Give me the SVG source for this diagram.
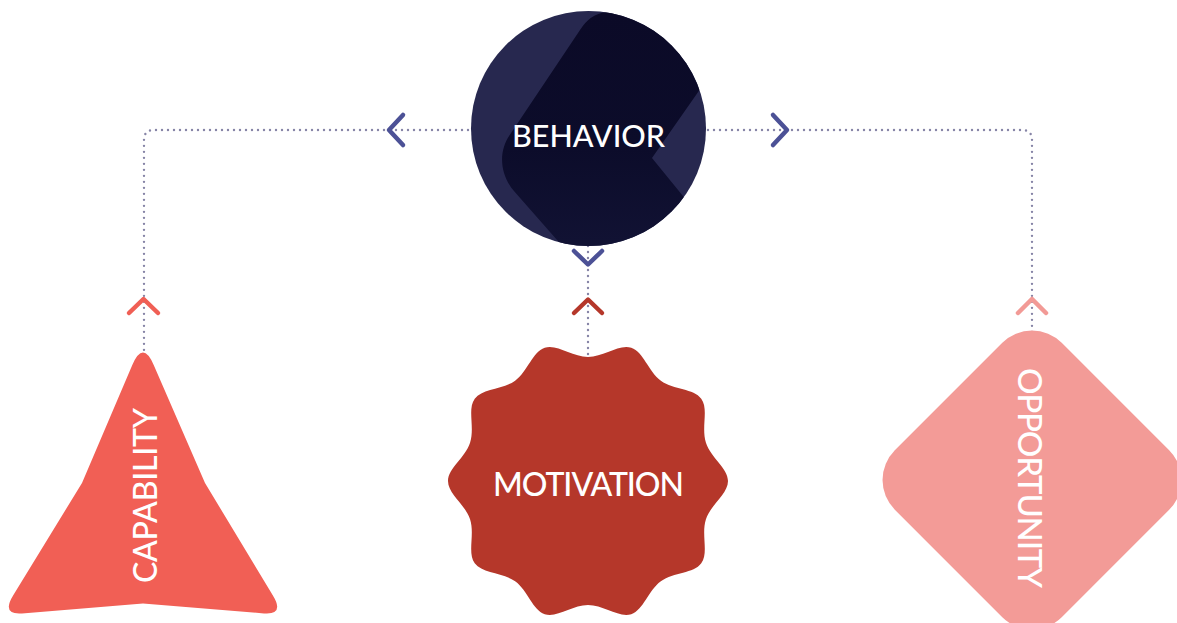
<svg xmlns="http://www.w3.org/2000/svg" width="1177" height="623" viewBox="0 0 1177 623">
  <style>
    .link { fill: none; stroke: #8785a7; stroke-width: 2.4; stroke-linecap: round; stroke-dasharray: 0 6; }
    .chev { fill: none; stroke-width: 4.5; stroke-linecap: round; stroke-linejoin: round; }
    .label { fill: #ffffff; font-family: Lato, "Open Sans", sans-serif; font-weight: 500; text-anchor: middle; }
  </style>
  <defs>
    <clipPath id="circleClip">
      <circle cx="588.5" cy="128.5" r="117.5"/>
    </clipPath>
    <linearGradient id="chevronShade" x1="0" y1="0" x2="0" y2="1">
      <stop offset="0" stop-color="#0b0a27"/>
      <stop offset="0.55" stop-color="#0c0c2a"/>
      <stop offset="1" stop-color="#121335"/>
    </linearGradient>
  </defs>

  <rect width="1177" height="623" fill="#ffffff"/>

  <!-- dotted links -->
  <g id="connectors">
    <path class="link" d="M588,130 L154,130 Q144,130 144,140 L144,352"/>
    <path class="link" d="M588,130 L1022,130 Q1032,130 1032,140 L1032,332"/>
    <path class="link" d="M588,240 L588,358"/>
    <path class="chev" stroke="#4c5196" d="M403,115 L389,130 L403,145"/>
    <path class="chev" stroke="#4c5196" d="M773,115 L787,130 L773,145"/>
    <path class="chev" stroke="#4c5196" d="M574,251 L588,264.5 L602,251"/>
    <path class="chev" stroke="#f05f55" d="M129,313 L143.5,299 L158,313"/>
    <path class="chev" stroke="#b5372a" d="M574,313 L588,299.5 L602,313"/>
    <path class="chev" stroke="#f29a96" d="M1018,313 L1032,299 L1046,313"/>
  </g>

  <!-- central node -->
  <g id="behavior">
    <circle cx="588.5" cy="128.5" r="117.5" fill="#27284f"/>
    <path clip-path="url(#circleClip)" fill="url(#chevronShade)"
          d="M606,12 L754,12 L652,158 L735,260 L574.6,260 L514.8,192 C499.9,175.2 497.9,152.4 509.7,135 L580,30 Q590,14 606,12 Z"/>
    <text class="label" x="588.5" y="147" font-size="30.5" textLength="153" lengthAdjust="spacing">BEHAVIOR</text>
  </g>

  <!-- left node -->
  <g id="capability">
    <path fill="#f15f55"
          d="M132.3,365 Q143,340 153.7,365 L205,483 L272.6,595 Q285,615 264,613.4 L143,603.5 L22,613.4 Q1,615 13.4,595 L82,483 Z"/>
    <text class="label" font-size="32" transform="translate(157,495.5) rotate(-90)" textLength="175" lengthAdjust="spacing">CAPABILITY</text>
  </g>

  <!-- middle node: ten-lobed seal -->
  <g id="motivation">
    <path fill="#b5372a"
          d="M588,357 C604,357 618.90,343.83 631.26,347.85 S647.95,371.28 660.89,380.68 S693.62,388.19 701.26,398.71 S701.00,427.46 705.94,442.68 S728,468 728,481 S710.88,504.10 705.94,519.32 S708.90,552.77 701.26,563.29 S673.83,571.92 660.89,581.32 S643.62,610.13 631.26,614.15 S604,605 588,605 S557.10,618.17 544.74,614.15 S528.05,590.72 515.11,581.32 S482.38,573.81 474.74,563.29 S475.00,534.54 470.06,519.32 S448,494 448,481 S465.12,457.90 470.06,442.68 S467.10,409.23 474.74,398.71 S502.17,390.08 515.11,380.68 S532.38,351.87 544.74,347.85 S572,357 588,357 Z"/>
    <text class="label" x="588.5" y="496" font-size="32" textLength="191" lengthAdjust="spacing">MOTIVATION</text>
  </g>

  <!-- right node -->
  <g id="opportunity">
    <rect x="-118" y="-118" width="236" height="236" rx="42" fill="#f39b97" transform="translate(1032,480) rotate(45)"/>
    <text class="label" font-size="33" transform="translate(1018,478) rotate(90)" textLength="220" lengthAdjust="spacing">OPPORTUNITY</text>
  </g>
</svg>
